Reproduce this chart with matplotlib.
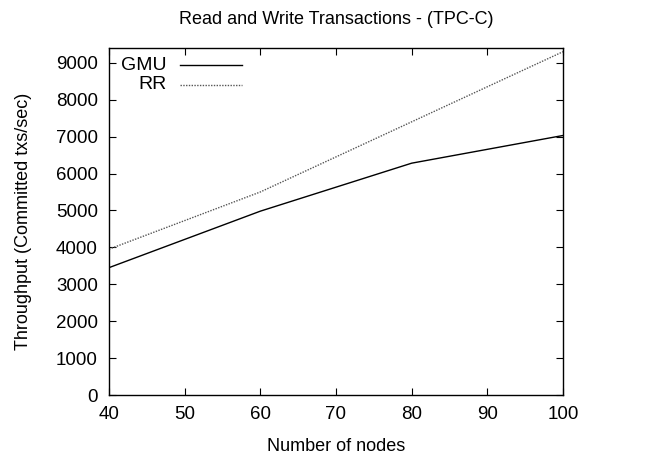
import matplotlib
matplotlib.use("Agg")
import matplotlib.pyplot as plt
from matplotlib.lines import Line2D

nodes = [40, 60, 80, 100]
gmu = [3450, 4980, 6280, 7030]
rr = [3950, 5500, 7400, 9300]
xticks = [40, 50, 60, 70, 80, 90, 100]
yticks = [0, 1000, 2000, 3000, 4000, 5000, 6000, 7000, 8000, 9000]

plt.rcParams['font.family'] = ['Liberation Sans', 'DejaVu Sans']
fig = plt.figure(figsize=(6.67, 4.58), dpi=100)
ax = fig.add_axes([109/667, 1-395/458, (563-109)/667, (395-48)/458])

ax.plot(nodes, gmu, color='black', lw=1.0, solid_joinstyle='miter')
ax.plot(nodes, rr, color='#555555', lw=1.0, linestyle=(0, (1, 1)))

ax.set_xlim(40, 100)
ax.set_ylim(0, 9400)
ax.set_xticks(xticks)
ax.set_yticks(yticks)
ax.tick_params(direction='in', top=True, right=True, length=5, width=0.8,
               labelsize=13.5, pad=8)
for s in ax.spines.values():
    s.set_linewidth(1.0)

ax.set_xlabel('Number of nodes', fontsize=13, labelpad=11)
ax.set_ylabel('Throughput (Committed txs/sec)', fontsize=13, labelpad=17)
ax.set_title('Read and Write Transactions - (TPC-C)', fontsize=13, pad=17)

# gnuplot-style legend: right-aligned labels, sample lines to the right
for lab, yy, style, col in [('GMU', 65, '-', 'black'), ('RR', 85, (0, (1, 1)), '#555555')]:
    fig.text(167/667, 1-yy/458, lab, ha='right', va='center', fontsize=14)
    fig.add_artist(Line2D([180/667, 242/667], [1-yy/458, 1-yy/458],
                          color=col, lw=1.0, linestyle=style,
                          transform=fig.transFigure))

fig.savefig('out.png', dpi=100)
